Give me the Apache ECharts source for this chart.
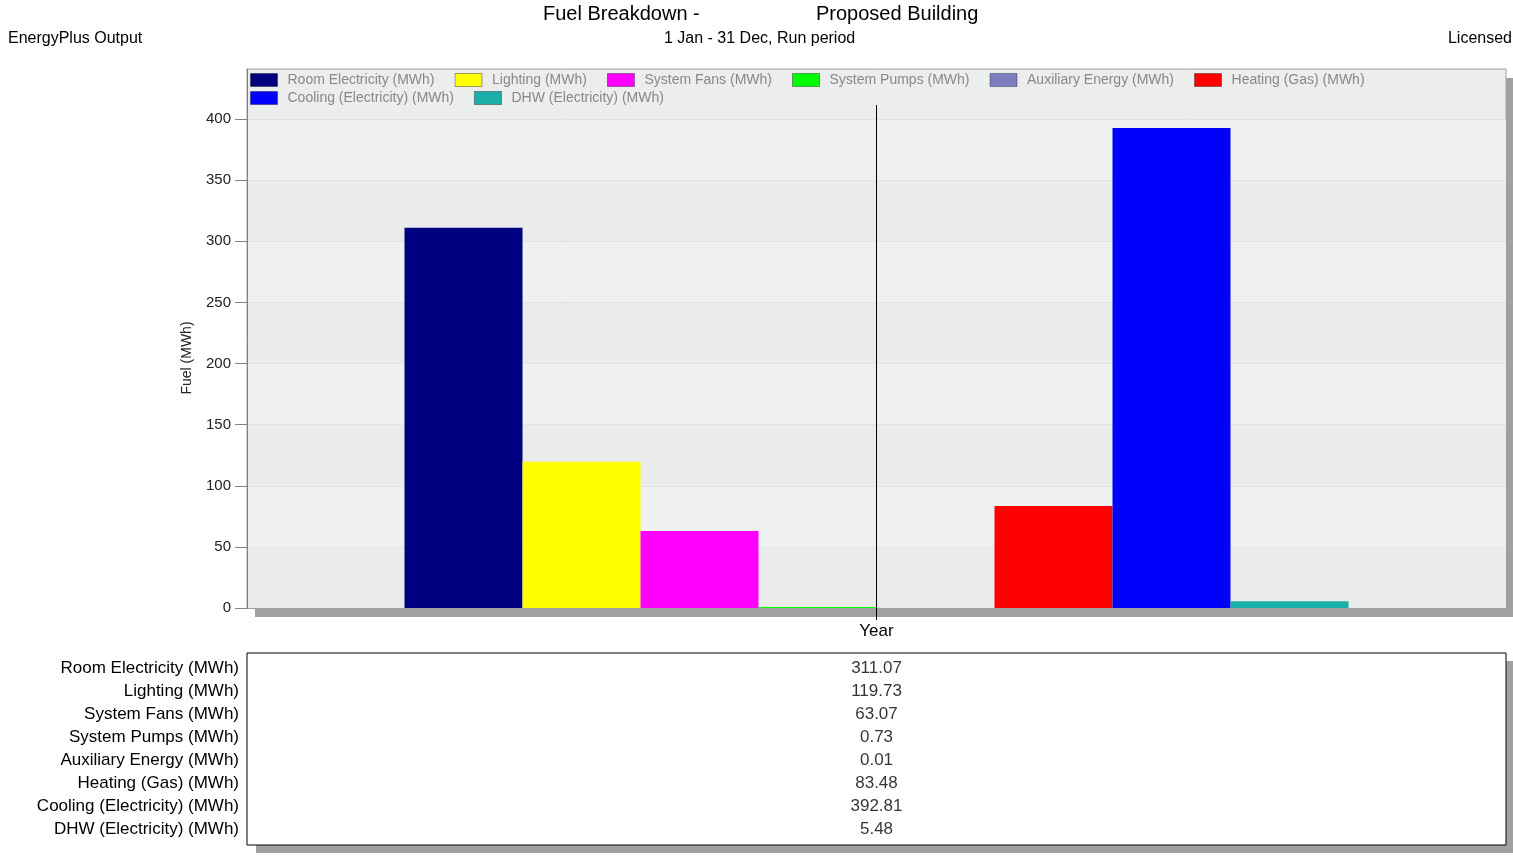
<!DOCTYPE html>
<html><head><meta charset="utf-8">
<script src="https://cdn.jsdelivr.net/npm/echarts@6/dist/echarts.min.js"></script>
<style>html,body{margin:0;padding:0;background:#fff}#c{width:1513px;height:856px}</style>
</head><body><div id="c"></div><script>
const categories = ['Year'];
const seriesNames = [
  'Room Electricity (MWh)', 'Lighting (MWh)', 'System Fans (MWh)', 'System Pumps (MWh)',
  'Auxiliary Energy (MWh)', 'Heating (Gas) (MWh)', 'Cooling (Electricity) (MWh)', 'DHW (Electricity) (MWh)'
];
const seriesValues = [311.07, 119.73, 63.07, 0.73, 0.01, 83.48, 392.81, 5.48];
const yTickValues = [0, 50, 100, 150, 200, 250, 300, 350, 400];
const yMax = 441;
const legendRow1 = seriesNames.slice(0, 6);
const legendRow2 = seriesNames.slice(6);

const palette = ['#000080', '#ffff00', '#ff00ff', '#00ff00', '#7f7fbf', '#ff0000', '#0000ff', '#1aafa8'];
const FONT = "'Liberation Sans', Arial, sans-serif";

const chart = echarts.init(document.getElementById('c'), null, {renderer: 'canvas'});

const barSeries = seriesNames.map((n, i) => ({
  type: 'bar', name: n, data: [seriesValues[i]],
  xAxisIndex: 0, yAxisIndex: 0,
  barWidth: 118, barGap: '0%',
  itemStyle: {color: palette[i]}
}));

const legendCommon = {
  orient: 'horizontal', itemWidth: 27, itemHeight: 13, itemGap: 20, icon: 'rect',
  selectedMode: false, padding: 0,
  textStyle: {fontFamily: FONT, fontSize: 14, color: '#888888', padding: [0, 0, 0, 5]},
  itemStyle: {borderColor: 'rgba(0,0,0,0.35)', borderWidth: 1}
};

function ttl(text, pos, size) {
  return Object.assign({text: text, padding: 0,
    textStyle: {fontFamily: FONT, fontSize: size, fontWeight: 'normal', color: '#000'}}, pos);
}

const option = {
  animation: false,
  color: palette,
  textStyle: {fontFamily: FONT},
  title: [
    ttl('Fuel Breakdown -', {left: 543, top: 4}, 20),
    ttl('Proposed Building', {left: 816, top: 4}, 20),
    ttl('1 Jan - 31 Dec, Run period', {left: 664, top: 31}, 16),
    ttl('EnergyPlus Output', {left: 8, top: 31}, 16),
    ttl('Licensed', {right: 1, top: 31}, 16)
  ],
  legend: [
    Object.assign({}, legendCommon, {data: legendRow1, left: 250, top: 73}),
    Object.assign({}, legendCommon, {data: legendRow2, left: 250, top: 91})
  ],
  grid: [
    {left: 247, top: 69, width: 1259, height: 539, show: true, backgroundColor: '#eceded',
     borderWidth: 0, shadowColor: '#a0a0a0', shadowBlur: 0, shadowOffsetX: 8, shadowOffsetY: 9},
    {left: 247, top: 657, width: 1259, height: 184, show: false},
    {left: 247, top: 653, width: 1259, height: 192, show: true, backgroundColor: '#ffffff',
     borderWidth: 0, shadowColor: '#a0a0a0', shadowBlur: 0, shadowOffsetX: 9, shadowOffsetY: 8},
    {left: 247, top: 69, width: 1259, height: 539, show: true, backgroundColor: 'rgba(0,0,0,0)',
     borderColor: '#a0a0a0', borderWidth: 1},
    {left: 247, top: 653, width: 1259, height: 192, show: true, backgroundColor: 'rgba(0,0,0,0)',
     borderColor: '#000000', borderWidth: 1}
  ],
  xAxis: [
    {type: 'category', gridIndex: 0, data: categories, position: 'bottom',
     axisLine: {show: true, lineStyle: {color: '#a0a0a0'}},
     axisTick: {show: true, alignWithLabel: true, length: 12, lineStyle: {color: '#000'}},
     axisLabel: {show: true, fontSize: 17, color: '#000', margin: 15},
     splitLine: {show: false}},
    {type: 'category', gridIndex: 0, data: categories, position: 'bottom',
     axisLine: {show: false},
     axisTick: {show: true, alignWithLabel: true, inside: true, length: 503, lineStyle: {color: '#000'}},
     axisLabel: {show: false}, splitLine: {show: false}},
    {type: 'category', gridIndex: 1, data: categories, show: false}
  ],
  yAxis: [
    {type: 'value', gridIndex: 0, min: 0, max: yMax, interval: 50,
     axisLine: {show: true, lineStyle: {color: '#808080'}},
     axisTick: {show: true, length: 12, lineStyle: {color: '#808080'}, customValues: yTickValues},
     axisLabel: {fontSize: 15, color: '#222', margin: 16, customValues: yTickValues},
     splitLine: {show: true, lineStyle: {color: '#e2e3e3'}},
     splitArea: {show: true, areaStyle: {color: ['#eaebeb', '#eff0f0']}},
     name: 'Fuel (MWh)', nameLocation: 'middle', nameGap: 53,
     nameTextStyle: {fontSize: 14, color: '#222', padding: [0, 39, 0, 0]}},
    {type: 'category', gridIndex: 1, data: seriesNames, inverse: true,
     axisLine: {show: false}, axisTick: {show: false}, splitLine: {show: false},
     axisLabel: {fontSize: 17, color: '#000', margin: 8}}
  ],
  series: barSeries.concat([{
    type: 'scatter', xAxisIndex: 2, yAxisIndex: 1,
    symbolSize: 1, itemStyle: {color: 'rgba(0,0,0,0)'},
    data: seriesValues.map((v, i) => [0, i, v]),
    label: {show: true, position: 'inside', fontSize: 17, color: '#000',
            formatter: p => p.value[2].toFixed(2)}
  }])
};
chart.setOption(option);
</script></body></html>
